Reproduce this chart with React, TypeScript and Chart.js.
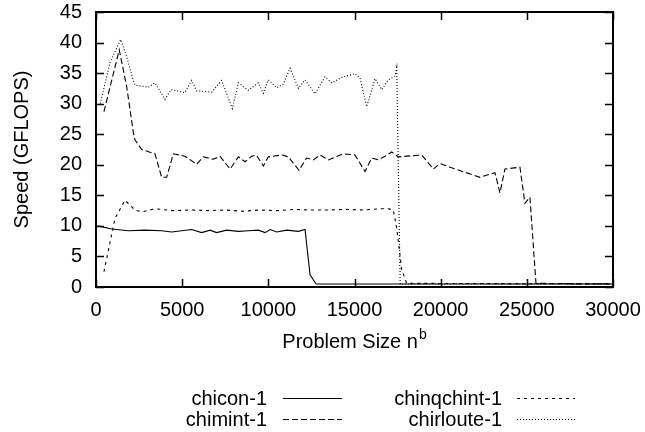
import React, { useEffect, useRef } from "react";
import { Chart, registerables } from "chart.js";

Chart.register(...registerables);

const xTicks = [0, 5000, 10000, 15000, 20000, 25000, 30000];
const yTicks = [0, 5, 10, 15, 20, 25, 30, 35, 40, 45];

const seriesNames = ["chicon-1", "chimint-1", "chinqchint-1", "chirloute-1"];

const chiconX = [100, 910, 1875, 2845, 3810, 4390, 4970, 5550, 6130, 6615, 7000, 7580, 8260, 8840, 9420, 9810, 10100, 10490, 11070, 11740, 12130, 12420, 12770, 30000];
const chiconY = [10.0, 9.5, 9.2, 9.3, 9.2, 9.0, 9.2, 9.4, 8.9, 9.3, 8.9, 9.3, 9.1, 9.2, 9.3, 8.9, 9.4, 9.0, 9.3, 9.1, 9.4, 2.0, 0.5, 0.5];

const chimintX = [460, 1350, 1780, 2170, 2260, 2650, 3420, 3810, 4100, 4490, 5160, 5840, 6230, 6810, 7190, 7780, 8260, 8650, 9030, 9300, 9710, 10000, 10780, 11160, 11780, 12220, 12610, 13000, 13480, 14350, 15030, 15610, 16000, 16380, 16770, 17160, 17540, 18900, 19580, 19960, 20540, 22280, 23150, 23440, 23730, 24600, 24890, 25180, 25530, 30000];
const chimintY = [28.7, 38.8, 32.8, 25.2, 24.1, 22.5, 21.8, 17.95, 17.95, 21.8, 21.4, 20.1, 21.3, 20.9, 21.4, 19.3, 21.3, 20.5, 21.4, 21.6, 19.8, 21.3, 21.6, 21.3, 19.1, 21.1, 20.8, 21.6, 20.8, 21.8, 21.6, 18.9, 21.1, 20.8, 21.4, 22.1, 21.3, 21.6, 19.3, 20.2, 19.6, 17.95, 18.7, 15.4, 19.3, 19.6, 13.7, 14.7, 0.6, 0.5];

const chinqchintX = [460, 1100, 1680, 2260, 2650, 3420, 4500, 5500, 6500, 7500, 8500, 9500, 10500, 11500, 12500, 13500, 14500, 15500, 16500, 16960, 17250, 17450, 17740, 18030, 30000];
const chinqchintY = [2.5, 11.2, 14.2, 12.6, 12.3, 12.8, 12.5, 12.6, 12.5, 12.6, 12.4, 12.6, 12.5, 12.7, 12.6, 12.6, 12.7, 12.6, 12.8, 12.8, 12.6, 9.6, 2.8, 0.6, 0.5];

const chirlouteX = [250, 810, 1430, 1780, 2150, 2260, 3040, 3420, 4000, 4350, 5160, 5550, 5840, 6710, 7290, 7910, 8260, 8840, 9420, 9710, 10000, 10490, 10870, 11260, 11740, 12130, 12710, 13290, 13680, 14260, 15030, 15320, 15710, 16190, 16580, 16960, 17350, 17450, 17650, 30000];
const chirlouteY = [30.0, 36.7, 40.5, 37.7, 33.9, 33.05, 32.7, 33.4, 30.7, 32.3, 31.8, 33.8, 32.1, 31.9, 33.8, 29.2, 33.4, 32.2, 33.4, 31.7, 33.9, 32.6, 33.2, 35.8, 32.5, 33.9, 31.6, 34.4, 33.4, 34.3, 34.9, 34.2, 29.5, 34.1, 32.3, 33.9, 34.5, 35.9, 0.5, 0.5];

const FONT = "'Liberation Sans', Arial, Helvetica, sans-serif";
const dashes: number[][] = [[], [6, 3], [3, 4], [1, 2]];

function pts(xs: number[], ys: number[]) {
  return xs.map((x, i) => ({ x, y: ys[i] }));
}

const decorPlugin = {
  id: "decor",
  afterDraw(chart: any) {
    const ctx = chart.ctx;
    const a = chart.chartArea;
    const xs = chart.scales.x;
    const ys = chart.scales.y;
    ctx.save();
    ctx.strokeStyle = "#000";
    ctx.setLineDash([]);
    ctx.lineWidth = 1.5;
    const tl = 8;
    ctx.beginPath();
    xTicks.forEach((v) => {
      const px = Math.round(xs.getPixelForValue(v)) + 0.5;
      ctx.moveTo(px, a.bottom);
      ctx.lineTo(px, a.bottom - tl);
      ctx.moveTo(px, a.top);
      ctx.lineTo(px, a.top + tl);
    });
    yTicks.forEach((v) => {
      const py = Math.round(ys.getPixelForValue(v)) + 0.5;
      ctx.moveTo(a.left, py);
      ctx.lineTo(a.left + tl, py);
      ctx.moveTo(a.right, py);
      ctx.lineTo(a.right - tl, py);
    });
    ctx.stroke();
    ctx.lineWidth = 2;
    ctx.strokeRect(a.left, a.top, a.right - a.left, a.bottom - a.top);

    ctx.fillStyle = "#000";
    const main = "Problem Size n";
    ctx.font = `20px ${FONT}`;
    const wMain = ctx.measureText(main).width;
    ctx.font = `14px ${FONT}`;
    const wSup = ctx.measureText("b").width;
    const cx = (a.left + a.right) / 2;
    const start = cx - (wMain + wSup + 1) / 2;
    ctx.textAlign = "left";
    ctx.textBaseline = "alphabetic";
    ctx.font = `20px ${FONT}`;
    ctx.fillText(main, start, 348);
    ctx.font = `14px ${FONT}`;
    ctx.fillText("b", start + wMain + 1, 339);

    ctx.save();
    ctx.translate(22, (a.top + a.bottom) / 2);
    ctx.rotate(-Math.PI / 2);
    ctx.font = `20px ${FONT}`;
    ctx.textAlign = "center";
    ctx.textBaseline = "middle";
    ctx.fillText("Speed (GFLOPS)", 0, 0);
    ctx.restore();

    const cols = [
      { textRight: 267, x0: 283, x1: 342 },
      { textRight: 502, x0: 517, x1: 575 },
    ];
    const rows = [
      { base: 405, line: 398.5 },
      { base: 426, line: 419.5 },
    ];
    const order = [0, 2, 1, 3];
    const placement = [
      [0, 0],
      [1, 0],
      [0, 1],
      [1, 1],
    ];
    order.forEach((di, k) => {
      const [c, r] = placement[k];
      const col = cols[c];
      const row = rows[r];
      ctx.font = `20px ${FONT}`;
      ctx.textAlign = "right";
      ctx.textBaseline = "alphabetic";
      ctx.fillText(chart.data.datasets[di].label, col.textRight, row.base);
      ctx.beginPath();
      ctx.lineWidth = 1;
      ctx.setLineDash(dashes[di]);
      ctx.moveTo(col.x0, row.line);
      ctx.lineTo(col.x1, row.line);
      ctx.stroke();
    });
    ctx.restore();
  },
};

export default function App() {
  const ref = useRef<HTMLCanvasElement | null>(null);
  useEffect(() => {
    if (!ref.current) return;
    const series = [
      pts(chiconX, chiconY),
      pts(chimintX, chimintY),
      pts(chinqchintX, chinqchintY),
      pts(chirlouteX, chirlouteY),
    ];
    const chart = new Chart(ref.current, {
      type: "line",
      data: {
        datasets: series.map((d, i) => ({
          label: seriesNames[i],
          data: d,
          borderColor: "#000",
          borderWidth: 1.1,
          borderDash: dashes[i],
          pointRadius: 0,
          tension: 0,
          fill: false,
        })),
      },
      options: {
        animation: false,
        responsive: false,
        layout: { padding: { left: 0, top: 12, right: 32, bottom: 0 } },
        plugins: { legend: { display: false }, tooltip: { enabled: false } },
        scales: {
          x: {
            type: "linear",
            min: 0,
            max: 30000,
            afterFit: (s: any) => {
              s.height = 145;
              s.paddingLeft = 0;
              s.paddingRight = 0;
            },
            afterBuildTicks: (s: any) => {
              s.ticks = xTicks.map((v) => ({ value: v }));
            },
            grid: { display: false, drawTicks: false },
            border: { display: false },
            ticks: {
              padding: 11,
              color: "#000",
              maxRotation: 0,
              autoSkip: false,
              font: { family: FONT, size: 20 },
              callback: (v: any) => String(v),
            },
          },
          y: {
            type: "linear",
            min: 0,
            max: 45,
            afterFit: (s: any) => {
              s.width = 96;
              s.paddingTop = 0;
              s.paddingBottom = 0;
            },
            afterBuildTicks: (s: any) => {
              s.ticks = yTicks.map((v) => ({ value: v }));
            },
            grid: { display: false, drawTicks: false },
            border: { display: false },
            ticks: {
              padding: 14,
              color: "#000",
              autoSkip: false,
              font: { family: FONT, size: 20 },
              callback: (v: any) => String(v),
            },
          },
        },
      },
      plugins: [decorPlugin],
    });
    return () => chart.destroy();
  }, []);
  return (
    <div style={{ position: "fixed", left: 0, top: 0, width: 645, height: 432, background: "#fff" }}>
      <canvas ref={ref} width={645} height={432} style={{ display: "block" }} />
    </div>
  );
}
